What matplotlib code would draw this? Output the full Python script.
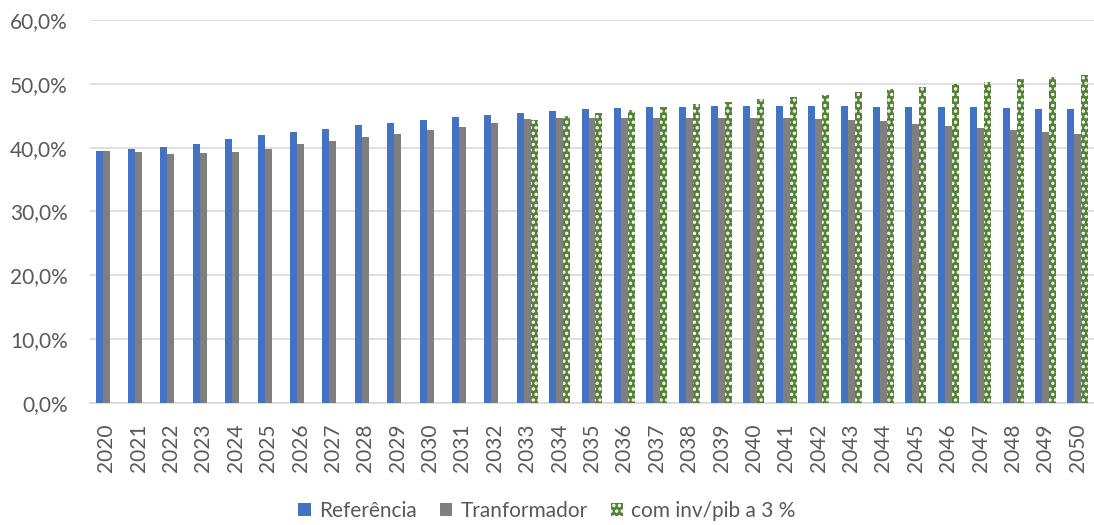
import numpy as np
import matplotlib.pyplot as plt
import matplotlib.ticker as ticker

plt.rcParams['font.family'] = ['Lato', 'DejaVu Sans']
plt.rcParams['hatch.linewidth'] = 1.6

# anos e séries (% )
anos = [str(a) for a in range(2020, 2051)]
referencia = [39.5, 39.8, 40.1, 40.6, 41.4, 42.0, 42.5, 43.0, 43.5, 43.9,
              44.4, 44.8, 45.1, 45.5, 45.8, 46.1, 46.2, 46.4, 46.4, 46.5,
              46.5, 46.5, 46.5, 46.5, 46.4, 46.4, 46.3, 46.3, 46.2, 46.1, 46.1]
tranformador = [39.5, 39.3, 39.0, 39.1, 39.3, 39.8, 40.5, 41.1, 41.6, 42.2,
                42.7, 43.3, 43.9, 44.5, 44.6, 44.7, 44.7, 44.7, 44.7, 44.7,
                44.6, 44.6, 44.5, 44.4, 44.1, 43.7, 43.4, 43.1, 42.7, 42.4, 42.1]
inv_pib = [np.nan] * 13 + [44.4, 45.0, 45.4, 45.9, 46.3, 46.8, 47.2, 47.6,
                           47.9, 48.3, 48.7, 49.2, 49.5, 49.95, 50.3, 50.7, 51.0, 51.4]

azul = '#4472C4'
cinza = '#7F7F7F'
verde = '#548235'
texto = '#595959'

fig = plt.figure(figsize=(10.94, 5.25), dpi=100)
ax = fig.add_axes([90 / 1094, 122 / 525, 1004 / 1094, 383 / 525])

x = np.arange(len(anos))
w = 0.216
ax.bar(x - w, np.array(referencia) / 100, w, color=azul, label='Referência', zorder=3)
ax.bar(x, np.array(tranformador) / 100, w, color=cinza, label='Tranformador', zorder=3)
ax.bar(x + w, np.array(inv_pib) / 100, w, color=verde, edgecolor='white',
       linewidth=0, hatch='...', label='com inv/pib a 3 %', zorder=3)

ax.set_xlim(-0.5, len(anos) - 0.5)
ax.set_ylim(0, 0.6)
ax.yaxis.set_major_locator(ticker.MultipleLocator(0.1))
ax.yaxis.set_major_formatter(ticker.FuncFormatter(lambda v, p: f'{v * 100:.1f}%'.replace('.', ',')))
ax.set_xticks(x)
ax.set_xticklabels(anos, rotation=90)

ax.tick_params(axis='y', length=0, pad=16, labelsize=15, labelcolor=texto)
ax.tick_params(axis='x', length=0, pad=15, labelsize=15, labelcolor=texto)

ax.grid(axis='y', color='#D9D9D9', linewidth=1.2, zorder=0)
for s in ['top', 'right', 'left']:
    ax.spines[s].set_visible(False)
ax.spines['bottom'].set_color('#D9D9D9')
ax.spines['bottom'].set_linewidth(1.2)

fig.legend(loc='center', bbox_to_anchor=(0.5, 14 / 525), ncol=3, frameon=False,
           fontsize=15, labelcolor=texto, handlelength=0.6, handleheight=0.6,
           handletextpad=0.4, columnspacing=1.1)

fig.savefig('out.png', dpi=100, facecolor='white')
